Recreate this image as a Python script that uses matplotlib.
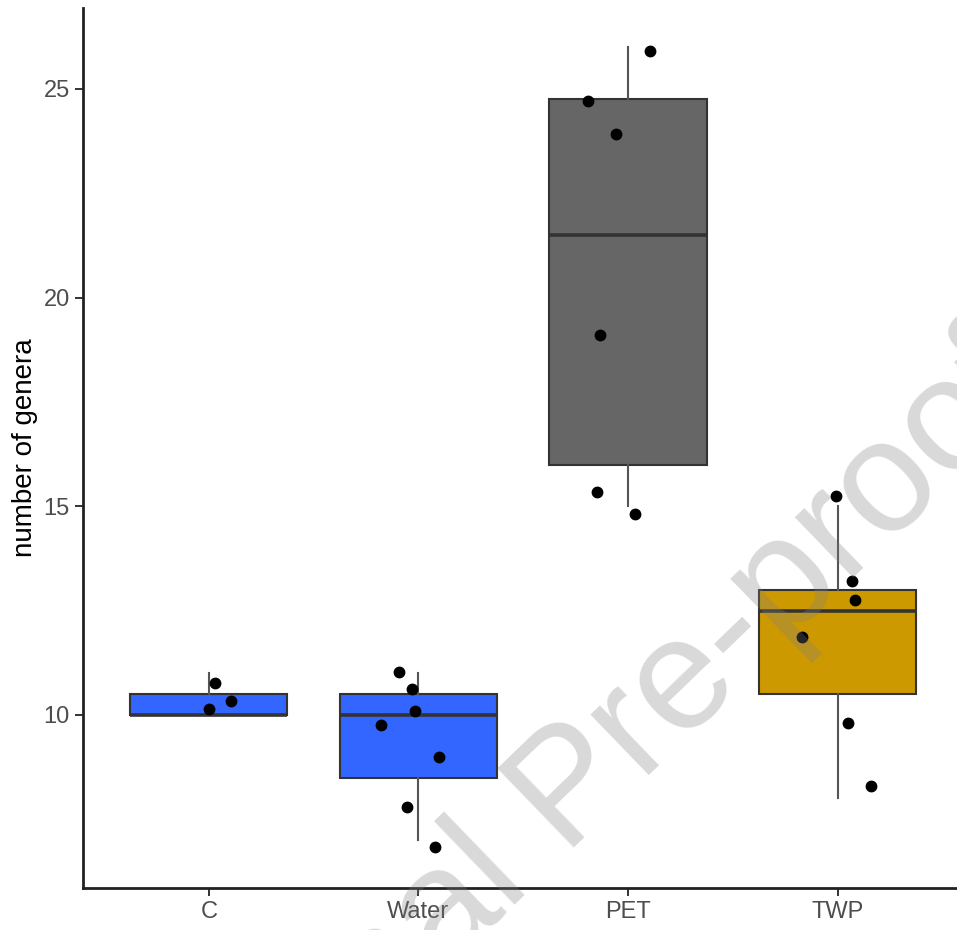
import matplotlib
matplotlib.use('Agg')
import matplotlib.pyplot as plt
import numpy as np

plt.rcParams['font.family'] = ['Liberation Sans', 'DejaVu Sans']

# number of genera per sample, by treatment
groups = ['C', 'Water', 'PET', 'TWP']
genera = [
    [10, 10, 11],
    [7, 8, 9, 10, 10, 11, 11],
    [15, 15, 19, 24, 25, 26],
    [8, 10, 12, 13, 13, 15],
]
# jitter applied to the points (x and y), same order as the sorted values
jitter_x = [
    [0.0, 0.108, 0.03],
    [0.08, -0.054, 0.10, -0.178, -0.016, -0.032, -0.092],
    [0.035, -0.147, -0.132, -0.057, -0.19, 0.107],
    [0.159, 0.052, -0.168, 0.082, 0.071, -0.005],
]
jitter_y = [
    [0.14, 0.33, -0.23],
    [-0.17, -0.21, -0.01, -0.24, 0.10, -0.38, 0.03],
    [-0.18, 0.35, 0.10, -0.08, -0.30, -0.10],
    [0.31, -0.19, -0.13, -0.24, 0.22, 0.24],
]
fills = ['#3366FF', '#3366FF', '#666666', '#CC9900']

fig = plt.figure(figsize=(9.57, 9.3), dpi=100)
ax = fig.add_axes([83 / 957, 42 / 930, 1 - 83 / 957, 880 / 930])

pos = np.arange(1, len(groups) + 1)
bp = ax.boxplot(genera, positions=pos, widths=0.75, patch_artist=True,
                showcaps=False, showfliers=False, whis=1.5)
for box, col in zip(bp['boxes'], fills):
    box.set_facecolor(col)
    box.set_edgecolor('#333333')
    box.set_linewidth(1.5)
for w in bp['whiskers']:
    w.set_color('#555555')
    w.set_linewidth(1.5)
for m in bp['medians']:
    m.set_color('#333333')
    m.set_linewidth(2.6)

# jittered points
for i, vals in enumerate(genera):
    xs = pos[i] + np.array(jitter_x[i])
    ys = np.sort(vals) + np.array(jitter_y[i])
    ax.plot(xs, ys, 'o', color='black', ms=7.5, zorder=5)

ax.set_xlim(0.4, 4.57)
ax.set_ylim(5.854, 26.94)
ax.set_xticks(pos)
ax.set_xticklabels(groups)
ax.set_yticks([10, 15, 20, 25])
ax.tick_params(length=5.5, width=1.4, color='#333333', labelcolor='#4D4D4D',
               labelsize=17, pad=4)
ax.set_ylabel('number of genera', fontsize=20, color='black')
ax.yaxis.set_label_coords(-0.052, 0.5)

ax.spines['top'].set_visible(False)
ax.spines['right'].set_visible(False)
for s in ['left', 'bottom']:
    ax.spines[s].set_linewidth(2)
    ax.spines[s].set_color('#222222')

# watermark
fig.text(600 / 957, 1 - 822 / 930, 'Journal Pre-proof', fontsize=115,
         color='#808080', alpha=0.3, rotation=44, rotation_mode='anchor',
         ha='center', va='baseline', zorder=20)

fig.savefig('out.png', dpi=100)
